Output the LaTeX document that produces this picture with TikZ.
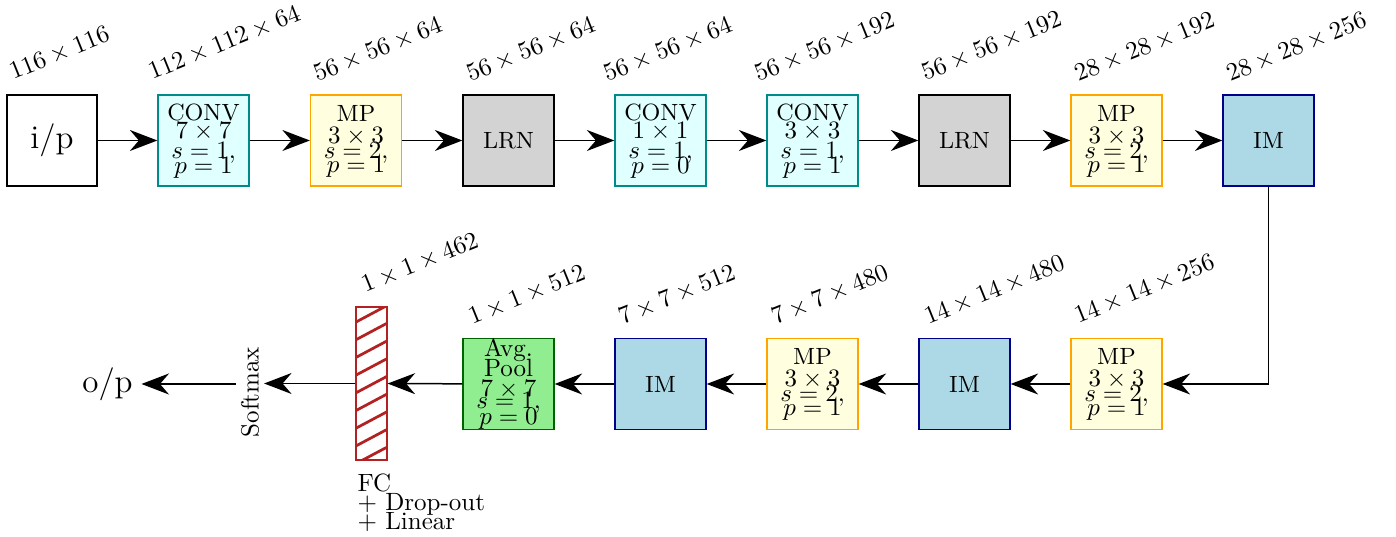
\documentclass[tikz,border=0pt]{standalone}
\usetikzlibrary{arrows.meta,calc}
\definecolor{convf}{RGB}{224,255,255}
\definecolor{convb}{RGB}{0,139,139}
\definecolor{mpf}{RGB}{255,255,224}
\definecolor{mpb}{RGB}{255,165,0}
\definecolor{lrnf}{RGB}{211,211,211}
\definecolor{imf}{RGB}{173,216,230}
\definecolor{imb}{RGB}{0,0,139}
\definecolor{avgf}{RGB}{144,238,144}
\definecolor{avgb}{RGB}{0,100,0}
\definecolor{fcr}{RGB}{178,34,34}
\newcommand\mytight[1]{\fontsize{10}{#1}\selectfont\lineskiplimit=-50pt\lineskip=0pt}
\newcommand\capw[1]{{\fontsize{9.4}{6}\selectfont #1}}
\newcommand\bl[2]{\vrule height #1 depth 0pt width 0pt\smash{#2}}
\newcommand\stk[2][2pt]{\vbox{\offinterlineskip\halign{\hfil##\hfil\cr #2\noalign{\kern#1}}}}
\newcommand\convtxt[2]{\stk{\bl{7pt}{\capw{CONV}}\cr \bl{7.2pt}{$#1$}\cr \bl{8pt}{$s=1,$}\cr \bl{6pt}{$p=#2$}\cr}}
\newcommand\mptxt{\stk{\bl{7pt}{\capw{MP}}\cr \bl{8.8pt}{$3\times3$}\cr \bl{6pt}{$s=2,$}\cr \bl{5.6pt}{$p=1$}\cr}}
\begin{document}
\begin{tikzpicture}[x=0.4pt,y=-0.4pt,
 box/.style={draw, minimum width=36.4pt, minimum height=36.4pt, inner sep=0pt, line width=0.5pt, font=\fontsize{10}{12}\selectfont},
 convbox/.style={box, draw=convb, fill=convf},
 mpbox/.style={box, draw=mpb, fill=mpf},
 lrnbox/.style={box, draw=black, fill=lrnf},
 imbox/.style={box, draw=imb, fill=imf},
 avgbox/.style={box, draw=avgb, fill=avgf},
 iofont/.style={font=\fontsize{13.2}{15}\selectfont},
 dim/.style={rotate=22, anchor=base west, inner sep=0pt, font=\fontsize{10}{12}\selectfont},
 arr/.style={-{Stealth[length=11pt,width=8.4pt,inset=3.6pt]}, line width=0.6pt},
]
\useasboundingbox (0,0) rectangle (1396,537);
% top row
\node[draw, minimum width=36pt, minimum height=36.4pt, inner sep=0pt, iofont, line width=0.5pt] (ip) at (52,140.5) {i/p};
\node[convbox] (c1) at (203.5,140.5) {\convtxt{7\times7}{1}};
\node[mpbox] (mp1) at (356,140.5) {\mptxt};
\node[lrnbox] (lrn1) at (508.5,140.5) {\capw{LRN}};
\node[convbox] (c2) at (660.5,140.5) {\stk{\bl{7pt}{\capw{CONV}}\cr \bl{7.2pt}{$1\times1$}\cr \bl{8pt}{$s=1,$}\cr \bl{6pt}{$p=0$}\cr}};
\node[convbox] (c3) at (812.5,140.5) {\convtxt{3\times3}{1}};
\node[lrnbox] (lrn2) at (964.5,140.5) {\capw{LRN}};
\node[mpbox] (mp2) at (1116.5,140.5) {\mptxt};
\node[imbox] (im1) at (1268.5,140.5) {\capw{IM}};
% bottom row
\node[mpbox] (mp3) at (1116.5,384) {\mptxt};
\node[imbox] (im2) at (964.5,384) {\capw{IM}};
\node[mpbox] (mp4) at (812.5,384) {\mptxt};
\node[imbox] (im3) at (660.5,384) {\capw{IM}};
\node[avgbox] (avg) at (508.5,384) {\stk[1.6pt]{\bl{7pt}{Avg.}\cr \bl{8pt}{Pool}\cr \bl{8pt}{$7\times7$}\cr \bl{4.9pt}{$s=1,$}\cr \bl{6.4pt}{$p=0$}\cr}};
\node[draw=fcr, line width=0.5pt, minimum width=12.4pt, minimum height=61.2pt, inner sep=0pt] (fc) at (371.5,383.5) {};
\begin{scope}
\clip (fc.south west) rectangle (fc.north east);
\foreach \k in {-1,...,8} \draw[fcr, line width=1.1pt] ($(fc.north west)+(0,16+17.7*\k)$) -- ++(31,-16.5);
\end{scope}
\draw[fcr, line width=0.5pt] (fc.south west) rectangle (fc.north east);
\node[rotate=90, inner sep=1.8pt, font=\fontsize{10}{12}\selectfont] (soft) at (250,392) {Softmax};
\node[iofont] (op) at (107.5,384) {o/p};
\node[anchor=north west, align=left, inner sep=0pt, font=\mytight{7.6pt}] (fctxt) at (357,473) {FC\\ + Drop-out\\ + Linear};
% dimension labels
\node[dim] (d1) at (13,80) {$116\times116$};
\node[dim] (d2) at (152,80) {$112\times112\times64$};
\node[dim] (d3) at (317,82) {$56\times56\times64$};
\node[dim] (d4) at (470,82) {$56\times56\times64$};
\node[dim] (d5) at (607,82) {$56\times56\times64$};
\node[dim] (d6) at (758,82) {$56\times56\times192$};
\node[dim] (d7) at (925,81) {$56\times56\times192$};
\node[dim] (d8) at (1078,82) {$28\times28\times192$};
\node[dim] (d9) at (1230,82) {$28\times28\times256$};
\node[dim] (e1) at (1078,324) {$14\times14\times256$};
\node[dim] (e2) at (928,325) {$14\times14\times480$};
\node[dim] (e3) at (775,325) {$7\times7\times480$};
\node[dim] (e4) at (622,325) {$7\times7\times512$};
\node[dim] (e5) at (472,325) {$1\times1\times512$};
\node[dim] (e6) at (365,293) {$1\times1\times462$};
% connectors
\draw[arr] (ip) -- (c1);
\draw[arr] (c1) -- (mp1);
\draw[arr] (mp1) -- (lrn1);
\draw[arr] (lrn1) -- (c2);
\draw[arr] (c2) -- (c3);
\draw[arr] (c3) -- (lrn2);
\draw[arr] (lrn2) -- (mp2);
\draw[arr] (mp2) -- (im1);
\draw[arr] (im1.south) |- (mp3.east);
\draw[arr] (mp3) -- (im2);
\draw[arr] (im2) -- (mp4);
\draw[arr] (mp4) -- (im3);
\draw[arr] (im3) -- (avg);
\draw[arr] (avg) -- (fc);
\draw[arr] (fc.west) -- (fc.west -| soft.south);
\draw[arr] (soft.north |- op.east) -- (op.east);
\end{tikzpicture}
\end{document}
